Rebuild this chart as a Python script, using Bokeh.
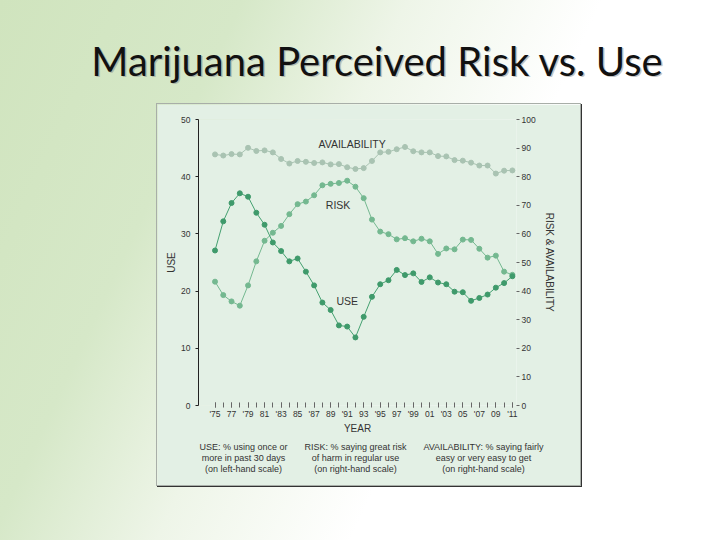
from bokeh.embed import file_html
from bokeh.layouts import column, row
from bokeh.models import ColumnDataSource, FixedTicker, Label, LinearAxis, Range1d, Spacer
from bokeh.plotting import figure
from bokeh.resources import INLINE

years = list(range(1975, 2012))

# % using once or more in past 30 days (left scale)
use = [27.1, 32.2, 35.4, 37.1, 36.5, 33.7, 31.6, 28.5, 27.0, 25.2, 25.7, 23.4, 21.0,
	18.0, 16.7, 14.0, 13.8, 11.9, 15.5, 19.0, 21.2, 21.9, 23.7, 22.8, 23.1, 21.6,
	22.4, 21.5, 21.2, 19.9, 19.8, 18.3, 18.8, 19.4, 20.6, 21.4, 22.6]

# % saying great risk of harm in regular use (right scale)
risk = [43.3, 38.6, 36.4, 34.9, 42.0, 50.4, 57.6, 60.4, 62.8, 66.9, 70.4, 71.3, 73.5,
	77.0, 77.5, 77.8, 78.6, 76.5, 72.5, 65.0, 60.8, 59.9, 58.1, 58.5, 57.4, 58.3,
	57.4, 53.0, 54.9, 54.6, 58.0, 57.9, 54.8, 51.7, 52.4, 46.8, 45.7]

# % saying fairly easy or very easy to get (right scale)
avail = [87.8, 87.4, 87.9, 87.8, 90.1, 89.0, 89.2, 88.5, 86.2, 84.6, 85.5, 85.2, 84.8,
	85.0, 84.3, 84.4, 83.3, 82.7, 83.0, 85.5, 88.5, 88.7, 89.6, 90.4, 88.9, 88.5,
	88.5, 87.2, 87.1, 85.8, 85.6, 84.9, 83.9, 83.9, 81.1, 82.1, 82.2]

label_years = list(range(1975, 2012, 2))
tick_labels = ["'75", "77", "'79", "81", "'83", "85", "'87", "89", "'91", "93",
	"'95", "97", "'99", "01", "'03", "05", "'07", "09", "'11"]

left_ticks = [0, 10, 20, 30, 40, 50]
right_ticks = [0, 10, 20, 30, 40, 50, 60, 70, 80, 90, 100]

notes = [
	"USE: % using once or\nmore in past 30 days\n(on left-hand scale)",
	"RISK: % saying great risk\nof harm in regular use\n(on right-hand scale)",
	"AVAILABILITY: % saying fairly\neasy or very easy to get\n(on right-hand scale)",
]

font = "Liberation Sans"
ink = "#333333"
mint = "#e3f0e5"

# slide title
head = figure(width=720, height=104, output_backend="svg", toolbar_location=None, title=None,
	x_range=Range1d(0, 720), y_range=Range1d(0, 104))
head.axis.visible = False
head.grid.visible = False
head.outline_line_color = None
head.min_border = 0
head.background_fill_alpha = 0
head.border_fill_alpha = 0

title = "Marijuana Perceived Risk vs. Use"
head.add_layout(Label(x=378.5, y=42.5, text=title, text_font="Lato", text_font_size="40px",
	text_color="#8a8a8a", text_alpha=0.5, text_align="center", text_baseline="alphabetic"))
head.add_layout(Label(x=377, y=44, text=title, text_font="Lato", text_font_size="40px",
	text_color="#111111", text_align="center", text_baseline="alphabetic"))

# chart
p = figure(width=423, height=381, output_backend="svg", toolbar_location=None, title=None,
	x_range=Range1d(1973.0, 2011.5), y_range=Range1d(0, 50),
	styles={"box-shadow": "0 0 0 1px #a8aea8, 1px 1px 0 1px #333333"})
p.extra_y_ranges = {"right": Range1d(0, 100)}
p.extra_x_ranges = {"note": Range1d(41, 359)}

p.background_fill_color = mint
p.border_fill_color = mint
p.outline_line_color = None
p.grid.visible = False

p.min_border_left = 41
p.min_border_right = 64
p.min_border_top = 15
p.min_border_bottom = 80

p.xaxis.ticker = FixedTicker(ticks=label_years, minor_ticks=years)
p.xaxis.major_label_overrides = dict(zip(label_years, tick_labels))
p.xaxis.axis_line_color = None
p.xaxis.major_tick_in = 3
p.xaxis.major_tick_out = 2
p.xaxis.minor_tick_in = 3
p.xaxis.minor_tick_out = 2
p.xaxis.major_tick_line_color = "#666666"
p.xaxis.minor_tick_line_color = "#666666"
p.xaxis.major_label_standoff = 1
p.xaxis.axis_label = "YEAR"
p.xaxis.axis_label_standoff = 1

p.yaxis.ticker = FixedTicker(ticks=left_ticks)
p.yaxis.minor_tick_line_color = None
p.yaxis.major_tick_in = 0
p.yaxis.major_tick_out = 3
p.yaxis.axis_line_color = "#222222"
p.yaxis.major_tick_line_color = "#222222"
p.yaxis.axis_label = "USE"
p.yaxis.axis_label_standoff = 1

right = LinearAxis(y_range_name="right", ticker=FixedTicker(ticks=right_ticks))
right.axis_line_color = None
right.minor_tick_line_color = None
right.major_tick_in = 0
right.major_tick_out = 3
right.major_tick_line_color = "#666666"
right.major_label_standoff = 2
right.axis_label = "RISK & AVAILABILITY"
right.axis_label_standoff = 5
p.add_layout(right, "right")

for ax in p.xaxis + p.yaxis + [right]:
	ax.major_label_text_font = font
	ax.major_label_text_font_size = "8.5px"
	ax.major_label_text_color = ink
	ax.axis_label_text_font = font
	ax.axis_label_text_font_size = "10px"
	ax.axis_label_text_font_style = "normal"
	ax.axis_label_text_color = ink

# explanatory notes under the chart, as a bare axis so they are not clipped
note_x = [86, 198, 326]
foot = LinearAxis(x_range_name="note", ticker=FixedTicker(ticks=note_x))
foot.major_label_overrides = dict(zip(note_x, notes))
foot.axis_line_color = None
foot.major_tick_line_color = None
foot.minor_tick_line_color = None
foot.major_tick_in = 0
foot.major_tick_out = 0
foot.major_label_standoff = 5
foot.major_label_text_font = font
foot.major_label_text_font_size = "9px"
foot.major_label_text_color = ink
foot.major_label_text_line_height = 1.1
p.add_layout(foot, "below")

src = ColumnDataSource(dict(year=years, use=use, risk=risk, avail=avail))

p.line("year", "avail", source=src, y_range_name="right", color="#a9c3b2", line_width=1)
p.scatter("year", "avail", source=src, y_range_name="right", color="#a9c3b2", size=5)

p.line("year", "risk", source=src, y_range_name="right", color="#74b890", line_width=1)
p.scatter("year", "risk", source=src, y_range_name="right", color="#74b890", size=5)

p.line("year", "use", source=src, color="#44a070", line_width=1)
p.scatter("year", "use", source=src, color="#3f9a6b", size=5)

for x, y, t in [(1991.6, 45.8, "AVAILABILITY"), (1989.9, 35.1, "RISK"), (1991.0, 18.2, "USE")]:
	p.add_layout(Label(x=x, y=y, text=t, text_font=font, text_font_size="10.5px",
		text_color=ink, text_align="center", text_baseline="middle"))

page = column(head, row(Spacer(width=157), p), width=720, height=540, spacing=0,
	styles={"background": "linear-gradient(115deg, #d0e4be 0%, #d6e8c8 25%, #eef5e8 42%, #ffffff 62%)"})

open("out.html", "w").write(file_html(page, INLINE))
